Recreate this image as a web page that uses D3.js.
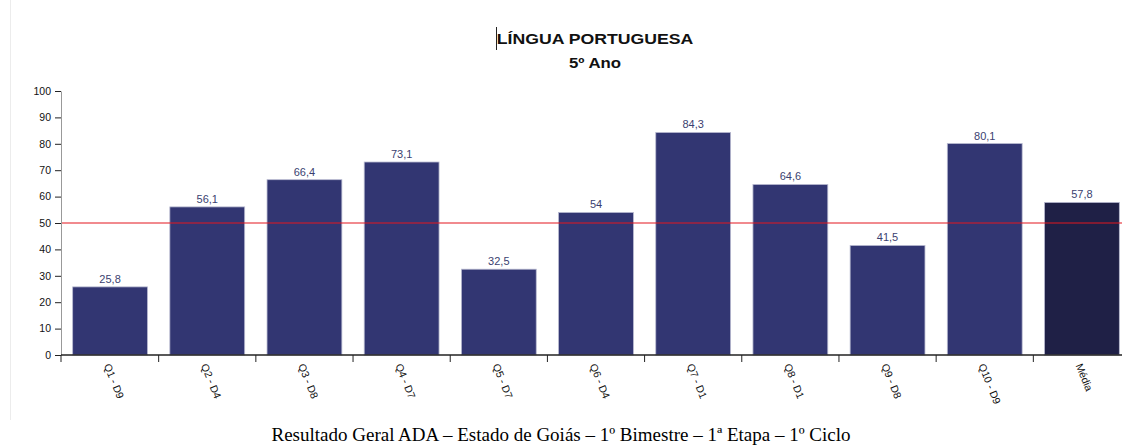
<!DOCTYPE html>
<meta charset="utf-8">
<style>
body {
  margin: 0;
  background: #fff;
  font-family: Arial, "Liberation Sans", sans-serif;
}
svg { display: block; }
.axis text { font: 10.5px "Liberation Sans", Arial, sans-serif; fill: #111; }
.y.axis path.domain { stroke: #999; }
.x.axis path.domain { stroke: #000; }
.axis line { stroke: #222; }
</style>
<body>
<script src="https://d3js.org/d3.v7.min.js"></script>
<script>

// data
var categories = ["Q1 - D9", "Q2 - D4", "Q3 - D8", "Q4 - D7", "Q5 - D7", "Q6 - D4",
                  "Q7 - D1", "Q8 - D1", "Q9 - D8", "Q10 - D9", "Média"];
var values = [25.8, 56.1, 66.4, 73.1, 32.5, 54, 84.3, 64.6, 41.5, 80.1, 57.8];
var yTicks = [0, 10, 20, 30, 40, 50, 60, 70, 80, 90, 100];
var reference = 50;

var W = 1122, H = 448;
var plotLeft = 61, plotRight = 1131, plotTop = 91, plotBottom = 355;

var svg = d3.select("body").append("svg")
    .attr("width", W)
    .attr("height", H);

// faint frame at the left edge of the original screenshot
svg.append("line")
    .attr("x1", 10.5).attr("x2", 10.5)
    .attr("y1", 0).attr("y2", 420)
    .attr("stroke", "#ececec");

var x = d3.scaleBand()
    .domain(categories)
    .range([plotLeft, plotRight])
    .paddingInner(0.23)
    .paddingOuter(0.12);

var y = d3.scaleLinear()
    .domain([0, 100])
    .range([plotBottom, plotTop]);

// titles (the original is a bit stretched sideways)
svg.append("text")
    .attr("transform", "translate(595,44) scale(1.14,1)")
    .attr("text-anchor", "middle")
    .style("font", "bold 15.5px 'Liberation Sans', Arial, sans-serif")
    .attr("fill", "#111")
    .text("LÍNGUA PORTUGUESA");

svg.append("line")
    .attr("x1", 496.5).attr("x2", 496.5)
    .attr("y1", 27).attr("y2", 50)
    .attr("stroke", "#222");

svg.append("text")
    .attr("transform", "translate(595,68) scale(1.2,1)")
    .attr("text-anchor", "middle")
    .style("font", "bold 14px 'Liberation Sans', Arial, sans-serif")
    .attr("fill", "#111")
    .text("5º Ano");

// bars
svg.selectAll(".bar")
    .data(values)
    .enter().append("rect")
      .attr("class", "bar")
      .attr("x", function(d, i) { return x(categories[i]); })
      .attr("width", x.bandwidth())
      .attr("y", function(d) { return y(d); })
      .attr("height", function(d) { return y(0) - y(d); })
      .attr("fill", function(d, i) { return categories[i] == "Média" ? "#1f2046" : "#323672"; })
      .attr("stroke", "#b8bad0")
      .attr("stroke-width", 0.8);

// value labels
svg.selectAll(".val")
    .data(values)
    .enter().append("text")
      .attr("class", "val")
      .attr("x", function(d, i) { return x(categories[i]) + x.bandwidth() / 2; })
      .attr("y", function(d) { return y(d) - 4; })
      .attr("text-anchor", "middle")
      .style("font", "11px 'Liberation Sans', Arial, sans-serif")
      .attr("fill", "#3b3f70")
      .text(function(d) { return String(d).replace(".", ","); });

// reference line at 50
svg.append("line")
    .attr("x1", plotLeft).attr("x2", W)
    .attr("y1", y(reference)).attr("y2", y(reference))
    .attr("stroke", "#e3161f")
    .attr("stroke-width", 1.1);

// y axis
svg.append("g")
    .attr("class", "y axis")
    .attr("transform", "translate(" + plotLeft + ",0)")
    .call(d3.axisLeft(y).tickValues(yTicks).tickSize(6).tickSizeOuter(0).tickPadding(4));

// x axis, ticks at band boundaries
var bounds = categories.map(function(c) { return x(c) - x.step() * x.paddingInner() / 2; });
bounds[0] = plotLeft;
var xg = svg.append("g")
    .attr("class", "x axis")
    .attr("transform", "translate(0," + plotBottom + ")");

xg.append("line")
    .attr("x1", plotLeft).attr("x2", W)
    .attr("stroke", "#000").attr("stroke-width", 1.5);

xg.selectAll(".tk")
    .data(bounds)
    .enter().append("line")
      .attr("class", "tk")
      .attr("x1", function(d) { return d; }).attr("x2", function(d) { return d; })
      .attr("y1", 0).attr("y2", 7)
      .attr("stroke", "#333");

xg.selectAll(".lbl")
    .data(categories)
    .enter().append("text")
      .attr("class", "lbl")
      .attr("transform", function(d) {
        return "translate(" + (x(d) + x.bandwidth() / 2 - 3) + ",9) rotate(68)";
      })
      .attr("text-anchor", "start")
      .attr("dy", "0.35em")
      .text(function(d) { return d; });

// caption
svg.append("text")
    .attr("x", 561).attr("y", 441)
    .attr("text-anchor", "middle")
    .style("font", "19px 'Liberation Serif', 'Times New Roman', serif")
    .attr("fill", "#000")
    .text("Resultado Geral ADA – Estado de Goiás – 1º Bimestre – 1ª Etapa – 1º Ciclo");

</script>
</body>
